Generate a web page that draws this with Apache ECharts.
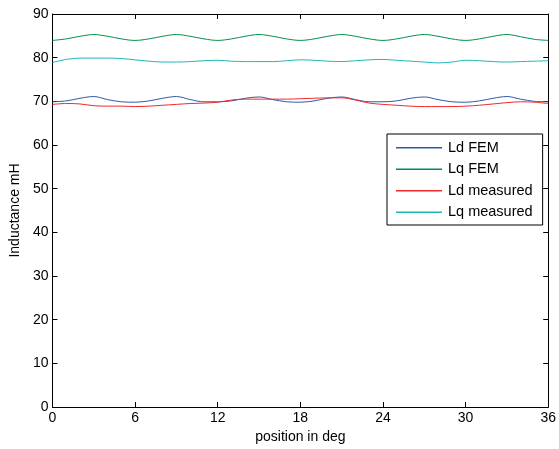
<!DOCTYPE html>
<html>
<head>
<meta charset="utf-8">
<script src="https://cdn.jsdelivr.net/npm/echarts@6/dist/echarts.min.js"></script>
<style>
  html, body { margin: 0; padding: 0; background: #fff; }
  #chart { width: 559px; height: 449px; }
</style>
</head>
<body>
<div id="chart"></div>
<script>
// Rotor position (deg), one sample per degree
const positions = [0,1,2,3,4,5,6,7,8,9,10,11,12,13,14,15,16,17,18,19,20,21,22,23,24,25,26,27,28,29,30,31,32,33,34,35,36];

// Inductance values in mH
const ldFem = [69.9,70.1,70.7,71.1,70.4,69.9,69.8,70.1,70.7,71.1,70.4,69.9,69.9,70.1,70.7,71.0,70.4,69.9,69.8,70.1,70.7,71.0,70.4,69.9,69.9,70.1,70.7,71.0,70.4,69.9,69.8,70.1,70.7,71.1,70.5,70.0,69.9];
const lqFem = [83.95,84.3,84.9,85.3,84.9,84.3,83.95,84.3,84.9,85.3,84.9,84.3,83.95,84.3,84.9,85.3,84.9,84.3,83.95,84.3,84.9,85.3,84.9,84.3,83.95,84.3,84.9,85.3,84.9,84.3,83.95,84.3,84.9,85.3,84.8,84.2,83.95];
const ldMeasured = [69.3,69.5,69.4,69.0,68.9,68.9,68.8,68.9,69.1,69.3,69.5,69.6,69.8,70.3,70.5,70.5,70.5,70.5,70.6,70.7,70.8,70.8,70.3,69.6,69.3,69.1,68.9,68.8,68.8,68.8,68.9,69.1,69.4,69.7,69.9,69.8,69.5];
const lqMeasured = [78.9,79.6,79.9,79.9,79.9,79.8,79.5,79.2,79.0,79.0,79.1,79.3,79.4,79.2,79.1,79.1,79.1,79.3,79.5,79.4,79.2,79.1,79.3,79.5,79.6,79.4,79.2,79.0,78.8,79.0,79.4,79.3,79.1,79.0,79.1,79.2,79.3];

const seriesNames = ['Ld FEM', 'Lq FEM', 'Ld measured', 'Lq measured'];
const seriesColors = ['#2f5aa8', '#00904a', '#ee2a2a', '#1fb8b8'];
const seriesValues = [ldFem, lqFem, ldMeasured, lqMeasured];

const xTicks = { min: 0, max: 36, interval: 6 };
const yTicks = { min: 0, max: 90, interval: 10 };

const font = 'Liberation Sans, Arial, sans-serif';

function tickStyle() {
  return { show: true, inside: true, length: 5, lineStyle: { color: '#000', width: 1 } };
}
function lineStyle() {
  return { show: true, onZero: false, lineStyle: { color: '#000', width: 1 } };
}
function labelStyle() {
  return { show: true, inside: false, fontFamily: font, fontSize: 14, color: '#000', margin: 4 };
}

const chart = echarts.init(document.getElementById('chart'), null, { renderer: 'canvas' });

chart.setOption({
  animation: false,
  backgroundColor: '#fff',
  grid: { left: 52, right: 8, top: 14, bottom: 42, containLabel: false },
  legend: {
    orient: 'vertical',
    left: 387,
    top: 134,
    backgroundColor: '#fff',
    borderColor: '#000',
    borderWidth: 1,
    borderRadius: 0,
    padding: [6, 10, 5, 9],
    itemWidth: 46,
    itemHeight: 1.5,
    itemGap: 6,
    icon: 'rect',
    textStyle: { fontFamily: font, fontSize: 14.5, color: '#000', lineHeight: 15.5, padding: [0, 0, 0, 1] },
    data: seriesNames
  },
  xAxis: [
    {
      type: 'value',
      position: 'bottom',
      min: xTicks.min, max: xTicks.max, interval: xTicks.interval,
      name: 'position in deg',
      nameLocation: 'middle',
      nameGap: 23,
      nameTextStyle: { fontFamily: font, fontSize: 14, color: '#000' },
      axisLine: lineStyle(),
      axisTick: tickStyle(),
      axisLabel: labelStyle(),
      splitLine: { show: false }
    },
    {
      type: 'value',
      position: 'top',
      min: xTicks.min, max: xTicks.max, interval: xTicks.interval,
      axisLine: lineStyle(),
      axisTick: tickStyle(),
      axisLabel: { show: false },
      splitLine: { show: false }
    }
  ],
  yAxis: [
    {
      type: 'value',
      position: 'left',
      min: yTicks.min, max: yTicks.max, interval: yTicks.interval,
      name: 'Inductance mH',
      nameLocation: 'middle',
      nameGap: 29,
      nameTextStyle: { fontFamily: font, fontSize: 14, color: '#000' },
      axisLine: lineStyle(),
      axisTick: tickStyle(),
      axisLabel: labelStyle(),
      splitLine: { show: false }
    },
    {
      type: 'value',
      position: 'right',
      min: yTicks.min, max: yTicks.max, interval: yTicks.interval,
      axisLine: lineStyle(),
      axisTick: tickStyle(),
      axisLabel: { show: false },
      splitLine: { show: false }
    }
  ],
  series: seriesNames.map((name, i) => ({
    name: name,
    type: 'line',
    xAxisIndex: 0,
    yAxisIndex: 0,
    smooth: 0.35,
    showSymbol: false,
    symbol: 'none',
    color: seriesColors[i],
    lineStyle: { color: seriesColors[i], width: 1 },
    data: positions.map((p, k) => [p, seriesValues[i][k]])
  }))
});
</script>
</body>
</html>
